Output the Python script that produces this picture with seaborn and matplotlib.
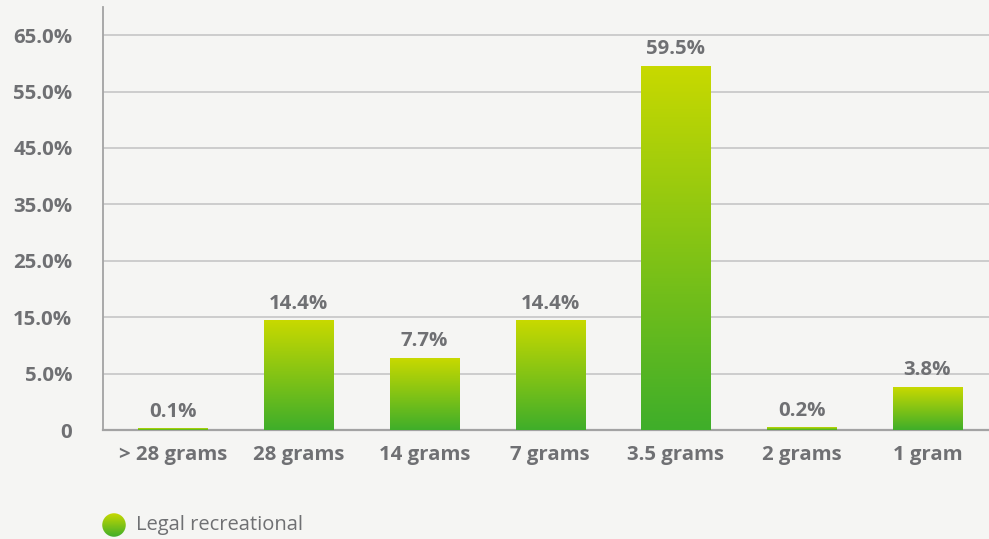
import numpy as np
import pandas as pd
import matplotlib
matplotlib.use("Agg")
import matplotlib.pyplot as plt
from matplotlib.colors import LinearSegmentedColormap
from matplotlib.patches import Circle
import seaborn as sns

# Purchase size distribution, legal recreational market
categories = ["> 28 grams", "28 grams", "14 grams", "7 grams", "3.5 grams", "2 grams", "1 gram"]
shares = [0.1, 14.4, 7.7, 14.4, 59.5, 0.2, 3.8]
y_ticks = [0, 5, 15, 25, 35, 45, 55, 65]
y_tick_labels = ["0", "5.0%", "15.0%", "25.0%", "35.0%", "45.0%", "55.0%", "65.0%"]
series_name = "Legal recreational"

BG = "#f5f5f3"
TEXT = "#6f7073"
GRID = "#c9c9c9"
AXIS = "#a3a3a3"
TOP = "#c8d900"
BOTTOM = "#3fae2a"
grad = LinearSegmentedColormap.from_list("grad", [BOTTOM, TOP])


# Value axis: the 0-5% band gets the same height as each 10% band above it
def fwd(y):
    y = np.asarray(y, dtype=float)
    return np.where(y <= 5, 2 * y, y + 5)


def inv(u):
    u = np.asarray(u, dtype=float)
    return np.where(u <= 10, u / 2, u - 5)


sns.set_theme(style="white")
plt.rcParams["font.family"] = ["Open Sans", "DejaVu Sans"]

df = pd.DataFrame({"size": categories, "share": shares})

fig = plt.figure(figsize=(9.89, 5.39), dpi=100, facecolor=BG)
ax = fig.add_axes([0.1041, 0.2022, 0.8959, 0.785])
ax.set_facecolor(BG)

sns.barplot(data=df, x="size", y="share", ax=ax, width=0.55, color=BOTTOM,
            edgecolor="none", zorder=3)

ax.set_yscale("function", functions=(fwd, inv))
ax.set_xlim(-0.557, 6.49)
ax.set_ylim(0, 70)

# Overlay axes in linear display units to paint each bar with its own gradient
gax = fig.add_axes(ax.get_position(), sharex=ax)
gax.set_ylim(float(fwd(0)), float(fwd(70)))
gax.set_axis_off()
gax.patch.set_alpha(0)

gradient = np.linspace(0, 1, 256).reshape(-1, 1)
for patch in ax.patches:
    x0, w, h = patch.get_x(), patch.get_width(), patch.get_height()
    patch.set_facecolor("none")
    top = float(fwd(h))
    gax.imshow(gradient, cmap=grad, origin="lower", aspect="auto",
               extent=[x0, x0 + w, 0, top], zorder=3, interpolation="bilinear")
    ax.annotate(f"{h:.1f}%", (x0 + w / 2, h), xytext=(0, 5),
                textcoords="offset points", ha="center", va="bottom",
                fontsize=14.7, fontweight="bold", color=TEXT, zorder=4)

gax.set_xlim(-0.557, 6.49)
gax.set_ylim(float(fwd(0)), float(fwd(70)))

ax.set_yticks(y_ticks)
ax.set_yticklabels(y_tick_labels)
ax.yaxis.grid(True, color=GRID, linewidth=1.3, zorder=0)
ax.set_axisbelow(True)
ax.set_xlabel("")
ax.set_ylabel("")

ax.tick_params(axis="y", length=0, pad=22, labelsize=14.7, labelcolor=TEXT)
ax.tick_params(axis="x", length=0, pad=11, labelsize=14.7, labelcolor=TEXT)
for lbl in ax.get_xticklabels() + ax.get_yticklabels():
    lbl.set_fontweight("bold")

for side in ["top", "right"]:
    ax.spines[side].set_visible(False)
ax.spines["left"].set_color(AXIS)
ax.spines["left"].set_linewidth(1.3)
ax.spines["bottom"].set_color(AXIS)
ax.spines["bottom"].set_linewidth(1.6)
ax.spines["bottom"].set_zorder(5)

# Legend: gradient dot and series name
lax = fig.add_axes([102 / 989, 1 - 537 / 539, 24 / 989, 24 / 539])
lax.set_axis_off()
lax.set_xlim(0, 1)
lax.set_ylim(0, 1)
dot = Circle((0.5, 0.5), 0.49, transform=lax.transAxes, facecolor="none", edgecolor="none")
lax.add_patch(dot)
dim = lax.imshow(gradient, cmap=grad, origin="lower", aspect="auto",
                 extent=[0, 1, 0, 1], interpolation="bilinear")
dim.set_clip_path(dot)
fig.text(136 / 989, 1 - 525 / 539, series_name, ha="left", va="center",
         fontsize=14.5, color=TEXT)

fig.savefig("out.png", dpi=100, facecolor=BG)
